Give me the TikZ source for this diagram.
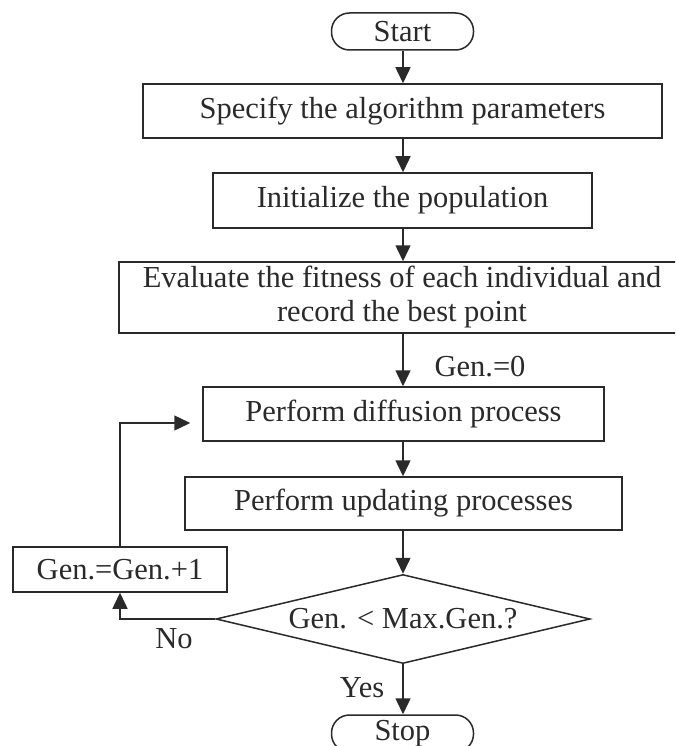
\documentclass[tikz,border=0pt]{standalone}
\usepackage{fontspec}
\setmainfont{Liberation Serif}
\usetikzlibrary{shapes.geometric,arrows.meta}
\definecolor{ink}{HTML}{2A2A2A}
\begin{document}
\begin{tikzpicture}[x=1pt,y=-1pt,
  every node/.style={font=\fontsize{30.5}{34}\selectfont, text=ink},
  boxnode/.style={draw=ink, line width=1.5pt, rectangle, inner sep=0pt, align=center},
  termnode/.style={draw=ink, line width=1.5pt, rectangle, rounded corners=18pt, inner sep=0pt, minimum width=142pt, minimum height=37pt},
  decnode/.style={draw=ink, line width=1.5pt, diamond, inner sep=0pt, aspect=4.2, minimum width=374pt, minimum height=89pt},
  flow/.style={draw=ink, line width=1.5pt, -{Triangle[length=16pt,width=15pt]}},
  plain/.style={inner sep=0pt}]
\useasboundingbox (0,0) rectangle (675,746);
\clip (0,0) rectangle (675,746);
\fill[white] (0,0) rectangle (675,746);

\node[termnode] (start) at (402.5,31.5) {Start};
\node[boxnode, minimum width=519pt, minimum height=54pt] (b1) at (402.5,111) {Specify the algorithm parameters};
\node[boxnode, minimum width=379pt, minimum height=55pt] (b2) at (402.5,200.5) {Initialize the population};
\node[boxnode, minimum width=566pt, minimum height=71pt] (b3) at (402,297.5) {Evaluate the fitness of each individual and\\record the best point};
\node[boxnode, minimum width=401pt, minimum height=54pt] (b4) at (403.5,414) {Perform diffusion process};
\node[boxnode, minimum width=437pt, minimum height=53pt] (b5) at (403.5,503.5) {Perform updating processes};
\node[decnode] (dec) at (403,619) {Gen. {<} Max.Gen.?};
\node[boxnode, minimum width=214pt, minimum height=45pt] (inc) at (120,569.5) {Gen.=Gen.+1};
\node[termnode] (stop) at (402.5,733.5) {Stop};

\node[plain] (lg0) at (480,367) {Gen.=0};
\node[plain] (lno) at (174,639) {No};
\node[plain] (lyes) at (362,688) {Yes};

\coordinate (loopcorner) at (120,423);

\draw[flow] (start.south -| 403,0) -- (b1.north -| 403,0);
\draw[flow] (b1.south -| 403,0) -- (b2.north -| 403,0);
\draw[flow] (b2.south -| 403,0) -- (b3.north -| 403,0);
\draw[flow] (b3.south -| 403,0) -- (b4.north -| 403,0);
\draw[flow] (b4.south -| 403,0) -- (b5.north -| 403,0);
\draw[flow] (b5.south -| 403,0) -- (dec.north);
\draw[flow] (dec.south) -- (stop.north -| dec.south);
\draw[flow] (dec.west) -| (inc.south);
\draw[flow, shorten >=12pt] (inc.north) -- (loopcorner) -- (loopcorner -| b4.west);
\end{tikzpicture}
\end{document}
